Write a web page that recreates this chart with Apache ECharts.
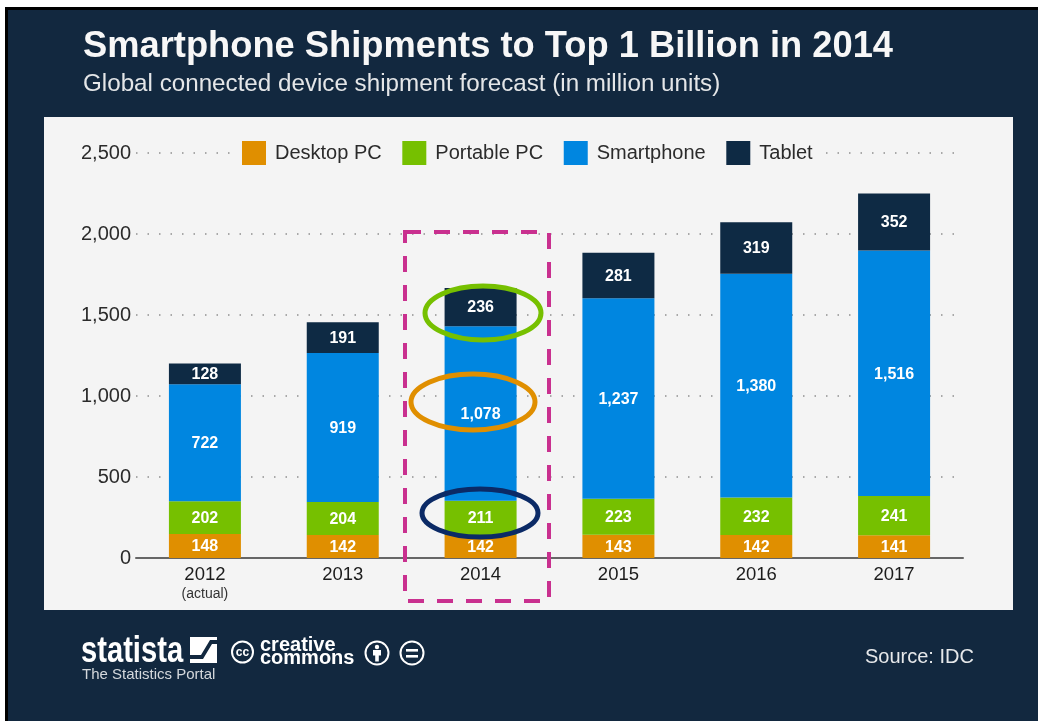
<!DOCTYPE html>
<html>
<head>
<meta charset="utf-8">
<style>html,body{margin:0;padding:0;background:#fff;overflow:hidden}#c{width:1040px;height:721px}</style>
<script src="https://cdn.jsdelivr.net/npm/echarts@6/dist/echarts.min.js"></script>
</head>
<body>
<div id="c"></div>
<script>
const categories = ['2012\n{s|(actual)}', '2013', '2014', '2015', '2016', '2017'];
const desktopPC = [148, 142, 142, 143, 142, 141];
const portablePC = [202, 204, 211, 223, 232, 241];
const smartphone = [722, 919, 1078, 1237, 1380, 1516];
const tablet = [128, 191, 236, 281, 319, 352];
const seriesNames = ['Desktop PC', 'Portable PC', 'Smartphone', 'Tablet'];
const seriesColors = ['#e08f00', '#76c000', '#0086e0', '#0e2a44'];
const FONT = '"Liberation Sans", Arial, sans-serif';
const NAVY = '#12283f';

const chart = echarts.init(document.getElementById('c'), null, {renderer: 'canvas'});
const bar = (i, data) => ({
  name: seriesNames[i], type: 'bar', stack: 'all', data, barWidth: 72,
  itemStyle: {color: seriesColors[i]},
  label: {show: true, position: 'inside', offset: [0, 1], color: '#fff', fontFamily: FONT, fontWeight: 'bold', fontSize: 16,
    formatter: p => p.value.toLocaleString('en-US')}
});
const ring = (cx, cy, rx, ry, color) => ({type: 'ellipse', z: 100,
  shape: {cx, cy, rx, ry}, style: {fill: 'none', stroke: color, lineWidth: 5}});
const txt = (x, y, text, font, fill, extra, el) => Object.assign({type: 'text', z: 5, x, y,
  style: Object.assign({text, font, fill, textVerticalAlign: 'middle'}, extra || {})}, el || {});

chart.setOption({
  animation: false,
  backgroundColor: 'transparent',
  textStyle: {fontFamily: FONT},
  title: {
    left: 83, top: 26, itemGap: 3,
    padding: 0,
    text: 'Smartphone Shipments to Top 1 Billion in 2014',
    subtext: 'Global connected device shipment forecast (in million units)',
    textStyle: {color: '#f7f7f7', fontFamily: FONT, fontWeight: 'bold', fontSize: 36.3, lineHeight: 42},
    subtextStyle: {color: '#e4e6e8', fontFamily: FONT, fontSize: 24.2, lineHeight: 26}
  },
  legend: {
    left: 236, top: 139, padding: [2, 7, 2, 6], itemWidth: 24, itemHeight: 24, itemGap: 20.6,
    backgroundColor: '#f4f4f4', icon: 'rect', z: 4,
    data: seriesNames,
    textStyle: {color: '#2b2b2b', fontFamily: FONT, fontSize: 20, padding: [2, 0, 0, 4]}
  },
  grid: {left: 136, right: 77, top: 153, height: 405},
  xAxis: {
    type: 'category', data: categories,
    axisLine: {lineStyle: {color: '#666', width: 2}}, axisTick: {show: false},
    axisLabel: {color: '#1c1c1c', fontFamily: FONT, fontSize: 18.5, margin: 7, lineHeight: 20, interval: 0,
      rich: {s: {fontSize: 14, color: '#333', fontFamily: FONT, lineHeight: 18}}}
  },
  yAxis: {
    type: 'value', min: 0, max: 2500, interval: 500,
    axisLine: {show: false}, axisTick: {show: false},
    axisLabel: {color: '#2b2b2b', fontFamily: FONT, fontSize: 20, margin: 5, padding: [1, 0, 0, 0], formatter: v => v.toLocaleString('en-US')},
    splitLine: {lineStyle: {color: '#8f8f8f', width: 1.5, type: [1.5, 10]}}
  },
  series: [bar(0, desktopPC), bar(1, portablePC), bar(2, smartphone), bar(3, tablet)],
  graphic: [
    {type: 'rect', z: -3, shape: {x: 5, y: 7, width: 1033, height: 714}, style: {fill: '#000'}},
    {type: 'rect', z: -2, shape: {x: 8, y: 10, width: 1030, height: 711}, style: {fill: NAVY}},
    {type: 'rect', z: -1, shape: {x: 44, y: 117, width: 969, height: 493}, style: {fill: '#f4f4f4'}},
    {type: 'rect', z: 100, shape: {x: 405, y: 232, width: 144, height: 369},
      style: {fill: 'none', stroke: '#c9308f', lineWidth: 4, lineDash: [16, 13]}},
    ring(483, 313, 58, 27, '#76c000'),
    ring(473, 402, 62, 28, '#e08f00'),
    ring(480, 513, 58, 24, '#0b2a66'),
    // footer: logos and source
    txt(81, 652, 'statista', 'bold 36px "Liberation Sans", sans-serif', '#fff', null, {scaleX: 0.81}),
    {type: 'polygon', z: 5, shape: {points: [[190, 637], [217, 637], [217, 663], [190, 663]]}, style: {fill: '#fff'}},
    {type: 'polygon', z: 6, shape: {points: [[190, 655], [201, 655], [210, 640], [217, 640], [217, 644], [212, 644], [203, 659], [190, 659]]}, style: {fill: NAVY}},
    txt(82, 675, 'The Statistics Portal', '15px "Liberation Sans", sans-serif', '#d4d8dc'),
    {type: 'circle', z: 5, shape: {cx: 242.5, cy: 652, r: 10.5}, style: {fill: 'none', stroke: '#fff', lineWidth: 2}},
    txt(242.5, 653, 'cc', 'bold 12px "Liberation Sans", sans-serif', '#fff', {textAlign: 'center'}),
    txt(260, 645, 'creative', 'bold 20px "Liberation Sans", sans-serif', '#fff'),
    txt(260, 658, 'commons', 'bold 20px "Liberation Sans", sans-serif', '#fff'),
    {type: 'circle', z: 5, shape: {cx: 377, cy: 653, r: 11.5}, style: {fill: 'none', stroke: '#fff', lineWidth: 2}},
    {type: 'circle', z: 5, shape: {cx: 377, cy: 647, r: 2.2}, style: {fill: '#fff'}},
    {type: 'rect', z: 5, shape: {x: 373, y: 650, width: 8, height: 5.5}, style: {fill: '#fff'}},
    {type: 'rect', z: 5, shape: {x: 375.2, y: 655, width: 3.6, height: 6.5}, style: {fill: '#fff'}},
    {type: 'circle', z: 5, shape: {cx: 412, cy: 653, r: 11.5}, style: {fill: 'none', stroke: '#fff', lineWidth: 2}},
    {type: 'rect', z: 5, shape: {x: 406, y: 649, width: 12, height: 2.6}, style: {fill: '#fff'}},
    {type: 'rect', z: 5, shape: {x: 406, y: 655, width: 12, height: 2.6}, style: {fill: '#fff'}},
    txt(865, 657, 'Source: IDC', '20px "Liberation Sans", sans-serif', '#e6e8ea')
  ]
});
</script>
</body>
</html>
